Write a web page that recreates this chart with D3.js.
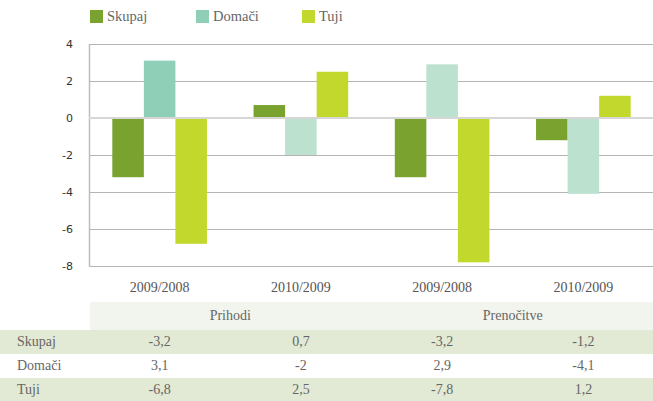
<!DOCTYPE html>
<html>
<head>
<meta charset="utf-8">
<script src="https://cdn.jsdelivr.net/npm/d3@7"></script>
<style>
  html, body { margin: 0; padding: 0; background: #fff; }
  svg { display: block; }
</style>
</head>
<body>
<svg id="chart" width="653" height="401"></svg>
<script>
// ---- data ----
const categories = ["2009/2008", "2010/2009", "2009/2008", "2010/2009"];
const groupLabels = ["Prihodi", "Prenočitve"];
const seriesNames = ["Skupaj", "Domači", "Tuji"];
const skupaj = [-3.2, 0.7, -3.2, -1.2];
const domaci = [3.1, -2, 2.9, -4.1];
const tuji = [-6.8, 2.5, -7.8, 1.2];
const yTicks = [-8, -6, -4, -2, 0, 2, 4];

const seriesValues = [skupaj, domaci, tuji];

// ---- styles ----
const colors = { "Skupaj": "#7aa22f", "Domači": "#8fcfb8", "Tuji": "#c3d82c" };
const domaciLight = "#bde1cf";
const serif = "'Liberation Serif', 'DejaVu Serif', serif";
const sans = "'DejaVu Sans', 'Open Sans', sans-serif";

const svg = d3.select("#chart");
const W = 653;
const plotL = 89, plotR = 654, plotT = 44, plotB = 266;

const x = d3.scaleBand().domain(d3.range(categories.length)).range([plotL, plotR]).padding(0);
const bw = x.bandwidth();
const x1 = d3.scaleBand().domain(seriesNames).range([bw * 0.165, bw * 0.835]).padding(0);
const y = d3.scaleLinear().domain([-8, 4]).range([plotB, plotT]);

// gridlines
svg.append("g").selectAll("line").data(yTicks.filter(d => d !== 0)).join("line")
  .attr("x1", plotL).attr("x2", W)
  .attr("y1", d => Math.round(y(d)) + 0.5).attr("y2", d => Math.round(y(d)) + 0.5)
  .attr("stroke", "#b4b4b4").attr("stroke-width", 1);

// left axis line
svg.append("line")
  .attr("x1", plotL + 0.5).attr("x2", plotL + 0.5)
  .attr("y1", y(4)).attr("y2", y(-8) + 1)
  .attr("stroke", "#bcbcbc").attr("stroke-width", 1.5);

// y tick labels
svg.append("g").selectAll("text").data(yTicks).join("text")
  .attr("x", 73).attr("y", d => y(d) + 4)
  .attr("text-anchor", "end")
  .attr("font-family", sans).attr("font-size", 11)
  .attr("fill", "#333")
  .text(d => String(d));

// bars
const barData = [];
seriesNames.forEach((s, si) => {
  seriesValues[si].forEach((v, ci) => barData.push({ s, ci, v }));
});
svg.append("g").selectAll("rect").data(barData).join("rect")
  .attr("x", d => x(d.ci) + x1(d.s))
  .attr("width", x1.bandwidth())
  .attr("y", d => y(Math.max(0, d.v)))
  .attr("height", d => Math.abs(y(d.v) - y(0)))
  .attr("fill", d => (d.s === "Domači" && d.ci > 0) ? domaciLight : colors[d.s]);

// zero line
svg.append("line")
  .attr("x1", plotL).attr("x2", W)
  .attr("y1", y(0)).attr("y2", y(0))
  .attr("stroke", "#d6d6d6").attr("stroke-width", 2);

// x labels
svg.append("g").selectAll("text").data(categories).join("text")
  .attr("x", (d, i) => x(i) + bw / 2).attr("y", 292)
  .attr("text-anchor", "middle")
  .attr("font-family", serif).attr("font-size", 14)
  .attr("fill", "#555")
  .text(d => d);

// legend
const lg = svg.append("g").selectAll("g").data(seriesNames).join("g")
  .attr("transform", (d, i) => `translate(${90 + i * 106},10)`);
lg.append("rect").attr("width", 13).attr("height", 13).attr("fill", d => colors[d]);
lg.append("text").attr("x", 17).attr("y", 11)
  .attr("font-family", serif).attr("font-size", 14.5)
  .attr("fill", "#666").text(d => d);

// table
const rowTop = 302, headH = 28, rowH = 24;
svg.append("rect").attr("x", plotL + 1).attr("y", rowTop).attr("width", W - plotL).attr("height", headH)
  .attr("fill", "#f2f5ed");
svg.append("g").selectAll("text").data(groupLabels).join("text")
  .attr("x", (d, i) => (x(i * 2) + x(i * 2 + 1) + bw) / 2)
  .attr("y", rowTop + 18)
  .attr("text-anchor", "middle")
  .attr("font-family", serif).attr("font-size", 14)
  .attr("fill", "#666").text(d => d);

const rows = svg.append("g").selectAll("g").data(seriesNames).join("g")
  .attr("transform", (d, i) => `translate(0,${rowTop + headH + i * rowH})`);
rows.append("rect").attr("x", 0).attr("width", W).attr("height", rowH)
  .attr("fill", (d, i) => i % 2 === 0 ? "#e2e9d4" : "#ffffff");
rows.append("text").attr("x", 17).attr("y", 16)
  .attr("font-family", serif).attr("font-size", 14)
  .attr("fill", "#666").text(d => d);
rows.each(function (s, si) {
  d3.select(this).selectAll("text.v").data(seriesValues[si]).join("text")
    .attr("class", "v")
    .attr("x", (v, ci) => x(ci) + bw / 2).attr("y", 16)
    .attr("text-anchor", "middle")
    .attr("font-family", serif).attr("font-size", 14)
    .attr("fill", "#666")
    .text(v => String(v).replace(".", ","));
});
</script>
</body>
</html>
